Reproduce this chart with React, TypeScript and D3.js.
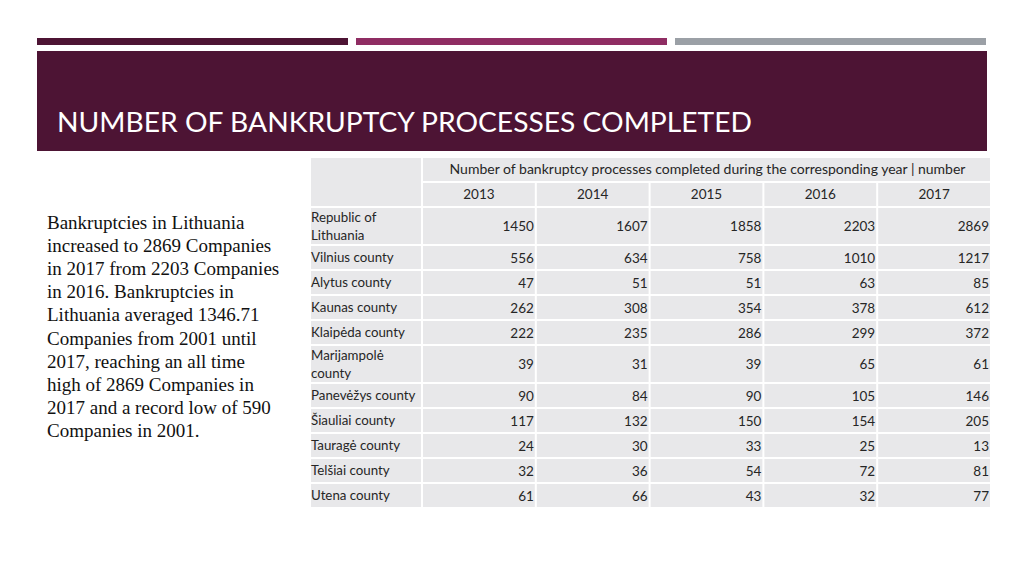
import React from "react";
import * as d3 from "d3";

const years = ["2013", "2014", "2015", "2016", "2017"];
const regions = [
  "Republic of|Lithuania",
  "Vilnius county",
  "Alytus county",
  "Kaunas county",
  "Klaipėda county",
  "Marijampolė|county",
  "Panevėžys county",
  "Šiauliai county",
  "Tauragė county",
  "Telšiai county",
  "Utena county",
];
const v2013 = [1450, 556, 47, 262, 222, 39, 90, 117, 24, 32, 61];
const v2014 = [1607, 634, 51, 308, 235, 31, 84, 132, 30, 36, 66];
const v2015 = [1858, 758, 51, 354, 286, 39, 90, 150, 33, 54, 43];
const v2016 = [2203, 1010, 63, 378, 299, 65, 105, 154, 25, 72, 32];
const v2017 = [2869, 1217, 85, 612, 372, 61, 146, 205, 13, 81, 77];
const series = [v2013, v2014, v2015, v2016, v2017];

const title = "NUMBER OF BANKRUPTCY PROCESSES COMPLETED";
const headerText = "Number of bankruptcy processes completed during the corresponding year | number";
const paragraph = [
  "Bankruptcies in Lithuania",
  "increased to 2869 Companies",
  "in 2017 from 2203 Companies",
  "in 2016. Bankruptcies in",
  "Lithuania averaged 1346.71",
  "Companies from 2001 until",
  "2017, reaching an all time",
  "high of 2869 Companies in",
  "2017 and a record low of 590",
  "Companies in 2001.",
];

export default function App() {
  const W = 1024, H = 576;
  const tableX0 = 310, labelX1 = 422, tableX1 = 991, tableY0 = 157;
  const x = d3.scaleBand().domain(years).range([labelX1, tableX1]).padding(0);
  const hdrH = 25;
  const rowHeights = regions.map((r) => (r.includes("|") ? 38 : 25));
  const rowY: number[] = [];
  let acc = tableY0 + hdrH * 2;
  rowHeights.forEach((h) => { rowY.push(acc); acc += h; });
  const fill = "#e8e8ea";
  const g = 1; // half-gap
  const font = "Lato, 'Open Sans', sans-serif";
  const textColor = "#262626";

  return (
    <svg width={W} height={H} style={{ position: "absolute", left: 0, top: 0 }}>
      <rect x={0} y={0} width={W} height={H} fill="#ffffff" />
      {/* top bars */}
      <rect x={37} y={38} width={311} height={7} fill="#4d1434" />
      <rect x={356} y={38} width={311} height={7} fill="#8f2d63" />
      <rect x={675} y={38} width={311} height={7} fill="#9ba0a6" />
      {/* title band */}
      <rect x={37} y={51} width={950} height={100} fill="#4d1434" />
      <text x={57} y={132} fill="#ffffff" fontFamily={font} fontSize={27}
        textLength={695} lengthAdjust="spacingAndGlyphs">{title}</text>

      {/* paragraph */}
      {paragraph.map((l, i) => (
        <text key={i} x={47} y={229 + i * 23.1} fontFamily="'Liberation Serif', 'Times New Roman', serif"
          fontSize={19} fill="#111">{l}</text>
      ))}

      {/* table header */}
      <rect x={tableX0 + g} y={tableY0 + g} width={labelX1 - tableX0 - 2 * g} height={hdrH * 2 - 2 * g} fill={fill} />
      <rect x={labelX1 + g} y={tableY0 + g} width={tableX1 - labelX1 - 2 * g} height={hdrH - 2 * g} fill={fill} />
      <text x={(labelX1 + tableX1) / 2 + 1} y={tableY0 + 17} textAnchor="middle" fontFamily={font}
        fontSize={14} fill={textColor}>{headerText}</text>
      {years.map((yr) => (
        <g key={yr}>
          <rect x={(x(yr) as number) + g} y={tableY0 + hdrH + g} width={x.bandwidth() - 2 * g}
            height={hdrH - 2 * g} fill={fill} />
          <text x={(x(yr) as number) + x.bandwidth() / 2} y={tableY0 + hdrH + 17} textAnchor="middle"
            fontFamily={font} fontSize={13.5} fill={textColor}>{yr}</text>
        </g>
      ))}

      {/* body */}
      {regions.map((r, i) => {
        const y0 = rowY[i], h = rowHeights[i];
        const parts = r.split("|");
        return (
          <g key={r}>
            <rect x={tableX0 + g} y={y0 + g} width={labelX1 - tableX0 - 2 * g} height={h - 2 * g} fill={fill} />
            {parts.length === 1 ? (
              <text x={tableX0 + 1} y={y0 + 17} fontFamily={font} fontSize={13.3} fill={textColor}>{parts[0]}</text>
            ) : (
              parts.map((p, k) => (
                <text key={k} x={tableX0 + 1} y={y0 + 15 + k * 18} fontFamily={font} fontSize={13.3}
                  fill={textColor}>{p}</text>
              ))
            )}
            {years.map((yr, j) => (
              <g key={yr}>
                <rect x={(x(yr) as number) + g} y={y0 + g} width={x.bandwidth() - 2 * g} height={h - 2 * g} fill={fill} />
                <text x={(x(yr) as number) + x.bandwidth() - 2} y={y0 + h / 2 + 5} textAnchor="end"
                  fontFamily={font} fontSize={13.5} fill={textColor}>{series[j][i]}</text>
              </g>
            ))}
          </g>
        );
      })}
    </svg>
  );
}
